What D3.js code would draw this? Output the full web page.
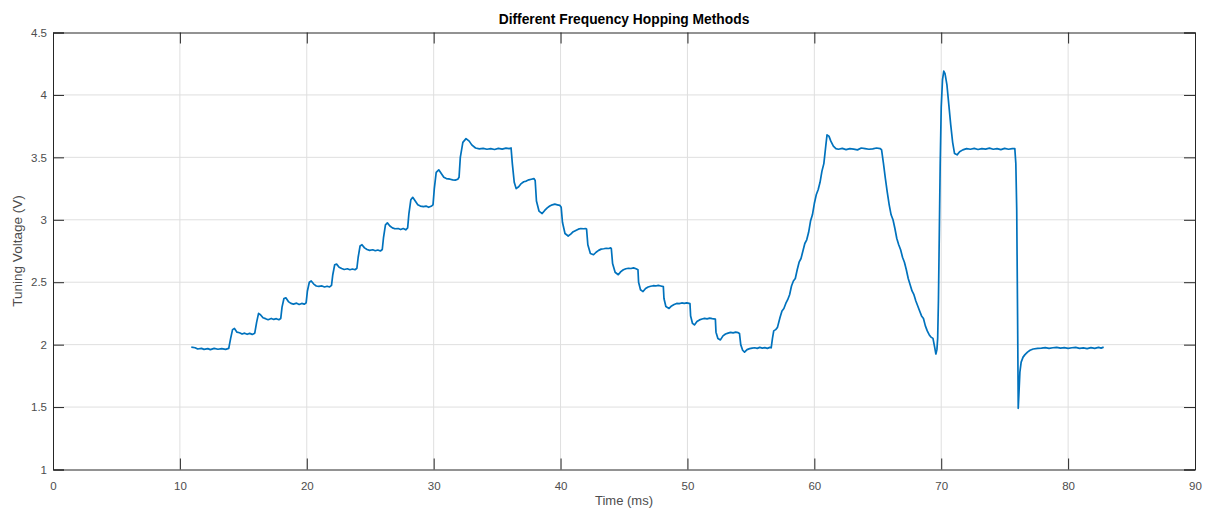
<!DOCTYPE html>
<html><head><meta charset="utf-8">
<script src="https://cdn.jsdelivr.net/npm/d3@7/dist/d3.min.js"></script>
<style>
body{margin:0;background:#fff;}
text{font-family:"Liberation Sans",Arial,Helvetica,sans-serif;}
</style></head>
<body><svg id="c" width="1211" height="509"></svg>
<script>
const title = "Different Frequency Hopping Methods";
const xLabel = "Time (ms)";
const yLabel = "Tuning Voltage (V)";
const xTicks = [0,10,20,30,40,50,60,70,80,90];
const yTicks = [1,1.5,2,2.5,3,3.5,4,4.5];
const time = [
 10.9,11.2,11.4,11.7,11.9,12.2,12.4,12.7,13.0,13.3,13.6,13.85,
 14.0,14.15,14.3,14.5,14.7,14.9,15.1,15.3,15.5,15.7,15.9,
 16.05,16.2,16.35,16.55,16.75,16.95,17.2,17.4,17.6,17.8,17.95,
 18.05,18.2,18.35,18.55,18.75,18.95,19.2,19.4,19.6,19.8,19.95,
 20.05,20.2,20.35,20.55,20.75,20.95,21.2,21.4,21.6,21.8,21.95,
 22.05,22.2,22.35,22.55,22.75,22.95,23.2,23.4,23.6,23.8,23.95,
 24.05,24.2,24.35,24.55,24.75,24.95,25.2,25.4,25.6,25.8,25.95,
 26.05,26.2,26.35,26.55,26.75,26.95,27.2,27.4,27.6,27.8,27.95,
 28.05,28.2,28.35,28.55,28.75,28.95,29.2,29.4,29.6,29.8,29.95,
 30.05,30.2,30.4,30.6,30.8,31.0,31.3,31.5,31.7,31.9,32.0,
 32.1,32.3,32.55,32.8,33.0,33.3,33.6,33.9,34.2,34.5,34.8,35.1,35.4,35.7,35.95,36.1,
 36.2,36.35,36.5,36.7,36.9,37.1,37.3,37.5,37.7,37.9,38.0,
 38.1,38.3,38.55,38.75,38.95,39.15,39.35,39.55,39.75,39.95,40.05,
 40.15,40.35,40.6,40.8,41.0,41.2,41.4,41.6,41.8,42.0,42.05,
 42.15,42.35,42.6,42.8,43.0,43.2,43.4,43.6,43.8,43.95,44.0,
 44.1,44.3,44.55,44.75,44.95,45.15,45.35,45.55,45.75,45.95,46.1,
 46.15,46.3,46.5,46.7,46.9,47.1,47.3,47.5,47.7,47.9,48.1,
 48.15,48.3,48.55,48.75,48.95,49.15,49.35,49.55,49.75,49.95,50.2,
 50.25,50.4,50.55,50.75,50.95,51.15,51.35,51.55,51.75,51.95,52.2,
 52.25,52.4,52.6,52.8,53.0,53.2,53.4,53.6,53.8,54.0,54.1,
 54.2,54.35,54.5,54.7,54.9,55.1,55.3,55.5,55.7,55.9,56.1,56.3,56.5,56.6,
 56.7,56.8,56.95,57.1,57.3,57.45,57.6,57.75,57.9,58.05,58.2,58.35,58.5,58.65,58.8,58.95,59.1,59.25,59.4,59.55,59.7,59.85,60.0,60.15,60.3,60.45,60.6,60.75,60.9,61.0,
 61.15,61.3,61.5,61.7,61.9,62.2,62.5,62.8,63.1,63.4,63.7,64.0,64.3,64.6,64.9,65.2,65.3,
 65.45,65.6,65.75,65.9,66.05,66.2,66.35,66.5,66.65,66.8,66.95,67.1,67.25,67.4,67.55,67.7,67.85,68.0,68.15,68.3,68.45,68.6,68.75,68.9,69.05,69.2,69.35,69.5,69.58,
 69.66,69.72,69.78,69.85,69.92,70.0,70.1,70.2,70.3,70.45,70.6,70.75,70.9,71.05,71.25,71.45,71.7,
 72.0,72.3,72.6,72.9,73.2,73.5,73.8,74.1,74.4,74.7,75.0,75.3,75.6,75.8,
 75.88,75.95,76.02,76.07,76.12,76.2,76.3,76.45,76.6,76.8,77.0,77.25,
 77.6,77.9,78.2,78.5,78.8,79.1,79.4,79.7,80.0,80.3,80.6,80.9,81.2,81.5,81.8,82.1,82.4,82.6,82.8];
const voltage = [
 1.98,1.975,1.965,1.97,1.962,1.968,1.96,1.97,1.963,1.968,1.962,1.97,
 2.05,2.12,2.13,2.10,2.095,2.085,2.092,2.083,2.09,2.082,2.092,
 2.18,2.25,2.24,2.215,2.208,2.2,2.21,2.202,2.208,2.2,2.21,
 2.30,2.37,2.375,2.345,2.33,2.325,2.332,2.322,2.33,2.324,2.335,
 2.43,2.50,2.51,2.485,2.47,2.466,2.47,2.462,2.468,2.462,2.475,
 2.56,2.64,2.645,2.62,2.61,2.602,2.608,2.6,2.606,2.6,2.612,
 2.70,2.79,2.80,2.775,2.762,2.755,2.76,2.752,2.758,2.75,2.762,
 2.86,2.96,2.975,2.95,2.935,2.928,2.93,2.922,2.93,2.92,2.935,
 3.05,3.16,3.18,3.15,3.12,3.11,3.105,3.11,3.1,3.108,3.12,
 3.25,3.38,3.40,3.37,3.34,3.33,3.325,3.32,3.318,3.325,3.34,
 3.50,3.62,3.65,3.63,3.6,3.575,3.568,3.572,3.565,3.57,3.563,3.572,3.566,3.574,3.57,3.575,
 3.45,3.30,3.25,3.265,3.29,3.305,3.31,3.32,3.325,3.33,3.315,
 3.15,3.07,3.05,3.075,3.095,3.11,3.12,3.125,3.12,3.115,3.1,
 2.98,2.89,2.87,2.885,2.905,2.915,2.925,2.93,2.928,2.93,2.925,
 2.80,2.73,2.72,2.74,2.755,2.765,2.768,2.772,2.77,2.775,2.77,
 2.65,2.58,2.56,2.585,2.6,2.608,2.612,2.61,2.615,2.608,2.6,
 2.5,2.44,2.425,2.45,2.462,2.468,2.472,2.47,2.475,2.47,2.465,
 2.37,2.305,2.29,2.31,2.322,2.33,2.328,2.334,2.33,2.335,2.328,
 2.23,2.17,2.158,2.185,2.198,2.205,2.21,2.206,2.212,2.208,2.205,
 2.10,2.05,2.038,2.07,2.085,2.092,2.098,2.094,2.1,2.096,2.09,
 2.0,1.955,1.94,1.96,1.968,1.972,1.975,1.97,1.978,1.972,1.976,1.97,1.978,1.975,
 2.05,2.11,2.12,2.14,2.22,2.27,2.29,2.33,2.36,2.40,2.47,2.51,2.53,2.60,2.66,2.69,2.75,2.81,2.84,2.90,2.99,3.04,3.13,3.20,3.24,3.30,3.39,3.45,3.59,3.68,
 3.67,3.63,3.59,3.57,3.565,3.572,3.562,3.57,3.566,3.56,3.575,3.57,3.565,3.568,3.575,3.57,3.56,
 3.45,3.33,3.22,3.12,3.04,3.0,2.93,2.85,2.80,2.76,2.70,2.66,2.60,2.53,2.48,2.43,2.40,2.35,2.31,2.27,2.23,2.21,2.15,2.11,2.08,2.06,2.05,1.97,1.925,
 1.96,2.05,2.35,2.9,3.45,3.9,4.12,4.19,4.17,4.08,3.92,3.76,3.62,3.53,3.52,3.545,3.56,
 3.57,3.565,3.572,3.563,3.57,3.566,3.574,3.565,3.57,3.562,3.572,3.565,3.57,3.57,
 3.45,3.08,2.2,1.49,1.6,1.78,1.86,1.9,1.92,1.94,1.955,1.965,
 1.97,1.972,1.976,1.97,1.975,1.978,1.972,1.976,1.97,1.975,1.978,1.97,1.974,1.968,1.976,1.97,1.978,1.972,1.98];

const svg = d3.select("#c");
const L=53, R=1195, T=32.5, B=469.5;
const x = d3.scaleLinear().domain([0,90]).range([L,R]);
const y = d3.scaleLinear().domain([1,4.5]).range([B,T]);
const axisCol="#262626", tickCol="#4d4d4d";

// grid
svg.append("g").selectAll("line").data(xTicks.slice(1,-1)).join("line")
  .attr("x1",d=>x(d)).attr("x2",d=>x(d)).attr("y1",T).attr("y2",B)
  .attr("stroke","#dfdfdf").attr("stroke-width",1);
svg.append("g").selectAll("line").data(yTicks.slice(1,-1)).join("line")
  .attr("y1",d=>y(d)).attr("y2",d=>y(d)).attr("x1",L).attr("x2",R)
  .attr("stroke","#dfdfdf").attr("stroke-width",1);

// line
const line = d3.line().x((d,i)=>x(time[i])).y((d,i)=>y(voltage[i]));
svg.append("path").datum(voltage).attr("d",line).attr("fill","none")
  .attr("stroke","#0072BD").attr("stroke-width",1.7).attr("stroke-linejoin","round");

// axes
const tl=11;
const xb = d3.axisBottom(x).tickValues(xTicks).tickSize(-tl).tickPadding(12).tickFormat(d3.format("d"));
const xt = d3.axisTop(x).tickValues(xTicks).tickSize(-tl).tickFormat("");
const yl = d3.axisLeft(y).tickValues(yTicks).tickSize(-tl).tickPadding(6).tickFormat(d=>String(d));
const yr = d3.axisRight(y).tickValues(yTicks).tickSize(-tl).tickFormat("");
function style(g){
  g.select(".domain").attr("stroke",axisCol).attr("stroke-width",1);
  g.selectAll(".tick line").attr("stroke",axisCol).attr("stroke-width",1);
  g.selectAll(".tick text").attr("fill",tickCol).attr("font-size",11.5)
   .attr("font-family","'Liberation Sans',Arial,sans-serif");
}
svg.append("g").attr("transform",`translate(0,${B})`).call(xb).call(style);
svg.append("g").attr("transform",`translate(0,${T})`).call(xt).call(style);
svg.append("g").attr("transform",`translate(${L},0)`).call(yl).call(style);
svg.append("g").attr("transform",`translate(${R},0)`).call(yr).call(style);

svg.append("text").attr("x",(L+R)/2).attr("y",24).attr("text-anchor","middle")
  .attr("font-size",13.8).attr("font-weight","bold").attr("fill","#000").text(title);
svg.append("text").attr("x",(L+R)/2).attr("y",505).attr("text-anchor","middle")
  .attr("font-size",13).attr("fill",tickCol).text(xLabel);
svg.append("text").attr("transform",`translate(22,${(T+B)/2}) rotate(-90)`).attr("text-anchor","middle")
  .attr("font-size",13.5).attr("fill",tickCol).text(yLabel);
</script></body></html>
